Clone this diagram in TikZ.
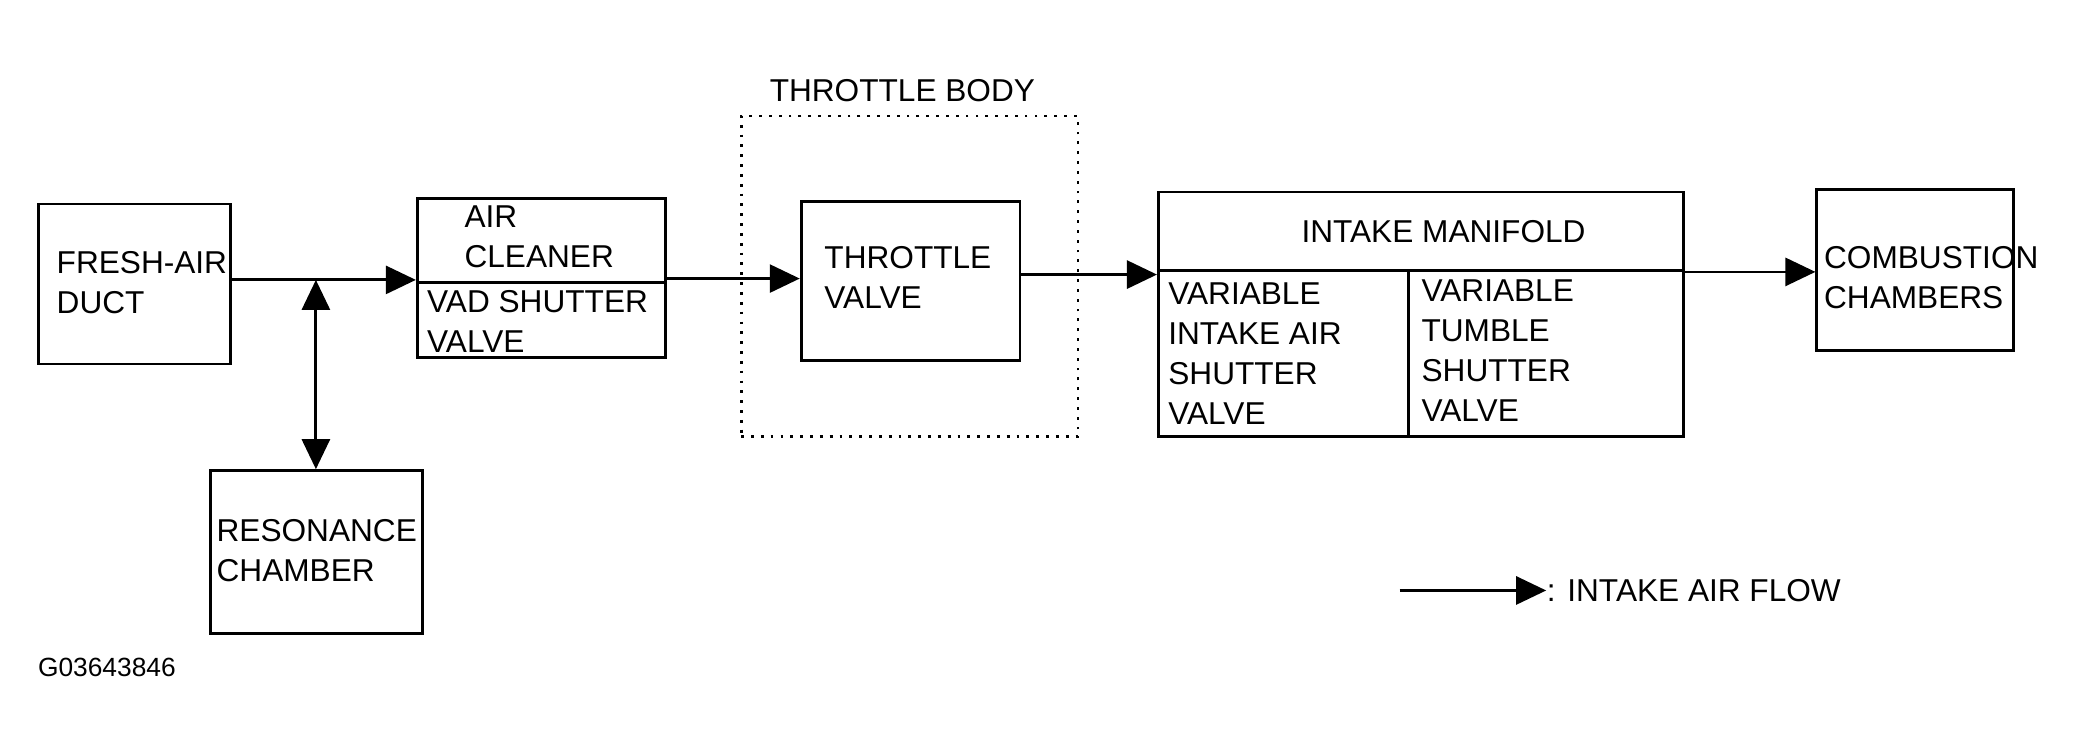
\documentclass[tikz,border=0pt]{standalone}
\usepackage{fontspec}
\setmainfont{Liberation Sans}
\usetikzlibrary{arrows.meta}
\tikzset{
	box/.style={draw, line width=.8pt, anchor=north west, inner sep=0pt},
	txt/.style={anchor=west, align=left, inner sep=0pt, font=\fontsize{9}{11.4}\selectfont},
	flow/.style={line width=.8pt, -{Triangle[length=3mm,width=2.8mm]}},
}
\begin{document}
\begin{tikzpicture}[x=0.01333cm, y=-0.01333cm]
	\useasboundingbox (0,0) rectangle (1568,565);
	% boxes
	\node [box, minimum width=1.92cm, minimum height=1.6cm] (duct) at (28,152) {};
	\node [box, minimum width=2.12cm, minimum height=1.63cm] (res) at (157,352) {};
	\node [box, minimum width=2.48cm, minimum height=1.59cm] (clean) at (312,148) {};
	\node [box, dotted, minimum width=3.37cm, minimum height=3.21cm] (tb) at (555,86) {};
	\node [box, minimum width=2.19cm, minimum height=1.59cm] (tv) at (600,150) {};
	\node [box, minimum width=5.25cm, minimum height=2.45cm] (man) at (868,143) {};
	\node [box, minimum width=1.97cm, minimum height=1.61cm] (comb) at (1362,141) {};
	\draw [line width=.8pt] (clean.west |- 0,212) -- (clean.east |- 0,212);
	\draw [line width=.8pt] (man.west |- 0,203) -- (man.east |- 0,203);
	\draw [line width=.8pt] (1057,203) -- (man.south -| 1057,0);
	% texts
	\node [txt] at (42,212) {FRESH-AIR\\DUCT};
	\node [txt] at (162,413) {RESONANCE\\CHAMBER};
	\node [txt] at (348,178) {AIR\\CLEANER};
	\node [txt] at (320,241) {VAD SHUTTER\\VALVE};
	\node [txt, anchor=center] at (677,68) {THROTTLE BODY};
	\node [txt] at (618,208) {THROTTLE\\VALVE};
	\node [txt, anchor=center] at (1083,174) {INTAKE MANIFOLD};
	\node [txt] at (876,265) {VARIABLE\\INTAKE AIR\\SHUTTER\\VALVE};
	\node [txt] at (1066,263) {VARIABLE\\TUMBLE\\SHUTTER\\VALVE};
	\node [txt] at (1368,208) {COMBUSTION\\CHAMBERS};
	\node [txt, font=\fontsize{7.5}{9}\selectfont] at (28,501) {G03643846};
	% flow
	\coordinate (j) at (237,210);
	\draw [flow] (duct.east |- j) -- (clean.west |- j);
	\draw [line width=.8pt, {Triangle[length=3mm,width=2.8mm]}-{Triangle[length=3mm,width=2.8mm]}] (j) -- (j |- res.north);
	\draw [flow] (clean.east |- 0,209) -- (tv.west |- 0,209);
	\draw [flow] (tv.east |- 0,206) -- (man.west |- 0,206);
	\draw [flow] (man.east |- 0,204) -- (comb.west |- 0,204);
	% legend
	\coordinate (l) at (1050,443);
	\node [txt] (lt) at (1160,443) {: INTAKE AIR FLOW};
	\draw [flow] (l) -- (lt.west);
\end{tikzpicture}
\end{document}
